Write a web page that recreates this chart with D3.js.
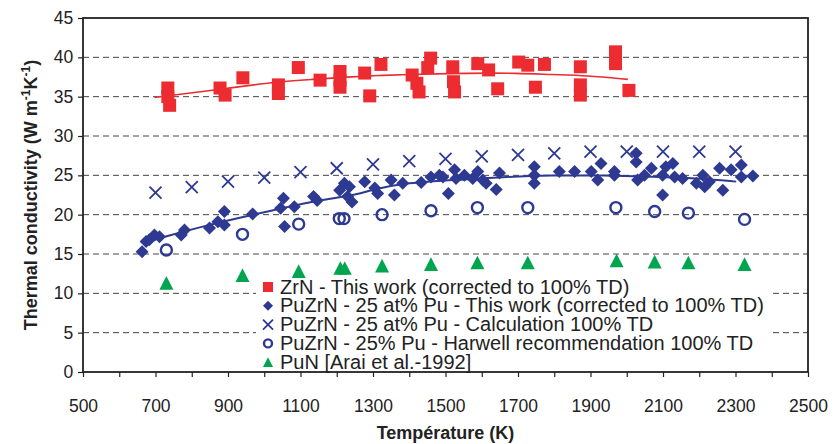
<!DOCTYPE html>
<html>
<head>
<meta charset="utf-8">
<script src="https://cdn.jsdelivr.net/npm/d3@7"></script>
<style>
  body { margin: 0; background: #fff; }
  svg text { font-family: "Liberation Sans", Arial, sans-serif; fill: #222; }
</style>
</head>
<body>
<div id="chart"></div>
<script>
// ZrN - this work
var zrnT = [734, 734, 739, 878, 892, 941, 1039, 1039, 1094, 1154, 1209, 1209, 1209, 1277, 1291, 1322,
  1408, 1421, 1427, 1459, 1451, 1520, 1522, 1525, 1589, 1619, 1644, 1702, 1727, 1748, 1773,
  1872, 1872, 1872, 1969, 1969, 2006];
var zrnK = [36.1, 35.0, 33.9, 36.1, 35.2, 37.4, 36.5, 35.4, 38.7, 37.1, 38.2, 37.1, 36.2, 38.0, 35.1, 39.1,
  37.75, 36.7, 35.6, 39.9, 38.7, 38.8, 36.9, 35.6, 39.2, 38.4, 36.0, 39.4, 39.0, 36.2, 39.1,
  38.8, 36.5, 35.2, 40.7, 39.2, 35.8];
var zrnFitT = [697, 890, 1033, 1134, 1230, 1318, 1382, 1566, 1699, 1796, 1888, 2003];
var zrnFitK = [34.9, 36.0, 36.9, 37.2, 37.5, 37.7, 37.8, 38.0, 38.0, 37.8, 37.7, 37.2];

// PuZrN - 25 at% Pu - this work
var puzrnT = [663, 674, 683, 697, 711, 771, 780, 849, 872, 890, 890, 968, 1045, 1053, 1056, 1083,
  1136, 1146, 1208, 1221, 1230, 1235, 1242, 1277, 1305, 1313, 1350, 1359, 1382, 1433, 1460, 1483,
  1493, 1508, 1525, 1529, 1552, 1575, 1589, 1603, 1612, 1640, 1649, 1745, 1745, 1745, 1814, 1856,
  1902, 1920, 1929, 1966, 1966, 2026, 2026, 2030, 2049, 2068, 2099, 2099, 2108, 2127, 2132, 2154,
  2192, 2210, 2215, 2228, 2256, 2265, 2288, 2316, 2316, 2348];
var puzrnK = [15.3, 16.6, 16.8, 17.4, 17.2, 17.4, 18.05, 18.3, 19.1, 20.4, 18.7, 20.1, 20.8, 22.1, 18.5, 21.0,
  22.3, 21.8, 23.1, 24.0, 22.3, 23.55, 21.6, 24.2, 23.4, 22.7, 24.4, 22.5, 24.0, 24.1, 24.8, 25.0,
  24.8, 22.7, 25.7, 24.6, 25.0, 24.6, 25.5, 24.4, 24.0, 23.2, 25.3, 26.1, 25.0, 24.0, 25.5, 25.5,
  25.5, 24.4, 26.5, 25.0, 25.5, 27.8, 26.7, 24.4, 25.0, 25.9, 25.0, 22.5, 26.1, 26.5, 24.8, 24.6,
  24.0, 25.0, 23.55, 24.2, 25.9, 23.1, 25.7, 26.3, 24.8, 24.9];
var puzrnFitT = [665, 725, 821, 941, 1047, 1157, 1263, 1290, 1382, 1520, 1658, 1796, 1925, 2109, 2201, 2302];
var puzrnFitK = [16.4, 17.2, 18.4, 19.7, 20.8, 21.9, 22.6, 23.1, 24.0, 24.4, 24.8, 25.0, 25.0, 24.8, 24.6, 24.2];

// PuZrN - 25 at% Pu - calculation
var calcT = [700, 800, 900, 1000, 1100, 1200, 1300, 1400, 1500, 1600, 1700, 1800, 1900, 2000, 2100, 2200, 2300];
var calcK = [22.8, 23.5, 24.2, 24.7, 25.4, 25.9, 26.4, 26.8, 27.1, 27.4, 27.6, 27.8, 28.0, 28.0, 28.0, 28.0, 28.0];

// PuZrN - 25% Pu - Harwell
var harwellT = [730, 940, 1095, 1207, 1220, 1325, 1460, 1588, 1727, 1970, 2077, 2170, 2325];
var harwellK = [15.5, 17.5, 18.8, 19.5, 19.5, 20.0, 20.5, 20.9, 20.9, 20.9, 20.4, 20.2, 19.4];

// PuN [Arai et al.-1992]
var punT = [730, 940, 1095, 1210, 1222, 1325, 1460, 1588, 1727, 1972, 2077, 2170, 2325];
var punK = [11.3, 12.3, 12.8, 13.2, 13.2, 13.5, 13.7, 13.9, 13.9, 14.15, 14.0, 13.9, 13.7];

var xTickValues = [500, 700, 900, 1100, 1300, 1500, 1700, 1900, 2100, 2300, 2500];
var yTickValues = [0, 5, 10, 15, 20, 25, 30, 35, 40, 45];
var legendLabels = [
  "ZrN - This work (corrected to 100% TD)",
  "PuZrN - 25 at% Pu - This work (corrected to 100% TD)",
  "PuZrN - 25 at% Pu - Calculation 100% TD",
  "PuZrN - 25% Pu - Harwell recommendation 100% TD",
  "PuN [Arai et al.-1992]"
];

var svgWidth = 835;
var svgHeight = 444;
var margin = { top: 18, right: 27, bottom: 72, left: 83 };
var width = svgWidth - margin.left - margin.right;
var height = svgHeight - margin.top - margin.bottom;

var red = "#ec2c30";
var blue = "#2e3992";
var green = "#00a54f";

var svg = d3.select("#chart").append("svg")
  .attr("width", svgWidth)
  .attr("height", svgHeight);

var g = svg.append("g").attr("transform", `translate(${margin.left},${margin.top})`);

var x = d3.scaleLinear().domain([500, 2500]).range([0, width]);
var y = d3.scaleLinear().domain([0, 45]).range([height, 0]);

// dashed grid
g.append("g").selectAll("line")
  .data(yTickValues.filter(d => d > 0 && d < 45))
  .enter().append("line")
  .attr("x1", 0).attr("x2", width)
  .attr("y1", d => y(d)).attr("y2", d => y(d))
  .attr("stroke", "#444")
  .attr("stroke-width", 1)
  .attr("stroke-dasharray", "6,4");

// axes
var xAxis = g.append("g")
  .attr("transform", `translate(0,${height})`)
  .call(d3.axisBottom(x).tickValues(d3.range(500, 2501, 100)).tickSize(5)
    .tickFormat(d => xTickValues.indexOf(d) >= 0 ? d : ""));
var yAxis = g.append("g")
  .call(d3.axisLeft(y).tickValues(yTickValues).tickSize(5));

[xAxis, yAxis].forEach(function(ax) {
  ax.select(".domain").remove();
  ax.selectAll(".tick line").attr("stroke", "#222").attr("stroke-width", 1.2);
  ax.selectAll(".tick text").style("font-size", "17.5px").attr("fill", "#222");
});
xAxis.selectAll(".tick text").attr("dy", "1.85em");
yAxis.selectAll(".tick text").attr("dx", "-0.1em");

// frame
g.append("rect")
  .attr("width", width).attr("height", height)
  .attr("fill", "none")
  .attr("stroke", "#222")
  .attr("stroke-width", 1.8);

// fit lines
var zrnFit = zrnFitT.map((t, i) => [t, zrnFitK[i]]);
var puzrnFit = puzrnFitT.map((t, i) => [t, puzrnFitK[i]]);
var line = d3.line().x(d => x(d[0])).y(d => y(d[1])).curve(d3.curveBasis);

g.append("path").datum(zrnFit)
  .attr("d", line).attr("fill", "none").attr("stroke", red).attr("stroke-width", 1.6);
g.append("path").datum(puzrnFit)
  .attr("d", line).attr("fill", "none").attr("stroke", blue).attr("stroke-width", 2);

// marker shapes
function drawMarker(sel, type, s) {
  if (type === "square") {
    sel.append("rect").attr("x", -s / 2).attr("y", -s / 2).attr("width", s).attr("height", s)
      .attr("fill", red);
  } else if (type === "diamond") {
    var h = s / 2;
    sel.append("path").attr("d", `M0,${-h}L${h},0L0,${h}L${-h},0Z`).attr("fill", blue);
  } else if (type === "cross") {
    var c = s / 2;
    sel.append("path").attr("d", `M${-c},${-c}L${c},${c}M${-c},${c}L${c},${-c}`)
      .attr("stroke", blue).attr("stroke-width", 1.8).attr("fill", "none");
  } else if (type === "circle") {
    sel.append("circle").attr("r", s / 2 - 1).attr("fill", "none")
      .attr("stroke", blue).attr("stroke-width", 2.4);
  } else if (type === "triangle") {
    var t = s / 2;
    sel.append("path").attr("d", `M0,${-t}L${t},${t * 0.95}L${-t},${t * 0.95}Z`).attr("fill", green);
  }
}

function plotSeries(ts, ks, type, s) {
  var grp = g.append("g");
  ts.forEach(function(t, i) {
    var m = grp.append("g").attr("transform", `translate(${x(t)},${y(ks[i])})`);
    drawMarker(m, type, s);
  });
}

plotSeries(punT, punK, "triangle", 14);
plotSeries(harwellT, harwellK, "circle", 13);
plotSeries(calcT, calcK, "cross", 12);
plotSeries(puzrnT, puzrnK, "diamond", 13);
plotSeries(zrnT, zrnK, "square", 13);

// legend (white box, no border)
var legendTypes = ["square", "diamond", "cross", "circle", "triangle"];
svg.append("rect")
  .attr("x", 256).attr("y", 278)
  .attr("width", 516).attr("height", 92)
  .attr("fill", "#fff");
var legend = svg.append("g").attr("transform", "translate(268,287)");
legendLabels.forEach(function(lbl, i) {
  var row = legend.append("g").attr("transform", `translate(0,${i * 18.8})`);
  drawMarker(row.append("g"), legendTypes[i], 10);
  row.append("text")
    .attr("x", 12)
    .attr("y", 6.5)
    .style("font-size", "20px")
    .text(lbl);
});

// axis titles
svg.append("text")
  .attr("x", margin.left + width / 2)
  .attr("y", 439)
  .attr("text-anchor", "middle")
  .style("font-size", "18px")
  .style("font-weight", "bold")
  .text("Température (K)");

var yTitle = svg.append("text")
  .attr("transform", `translate(37,${margin.top + height / 2}) rotate(-90)`)
  .attr("text-anchor", "middle")
  .style("font-size", "18px")
  .style("font-weight", "bold");
yTitle.append("tspan").text("Thermal conductivity  (W m");
yTitle.append("tspan").attr("dy", -7).style("font-size", "12px").text("-1");
yTitle.append("tspan").attr("dy", 7).text("K");
yTitle.append("tspan").attr("dy", -7).style("font-size", "12px").text("-1");
yTitle.append("tspan").attr("dy", 7).text(")");
</script>
</body>
</html>
